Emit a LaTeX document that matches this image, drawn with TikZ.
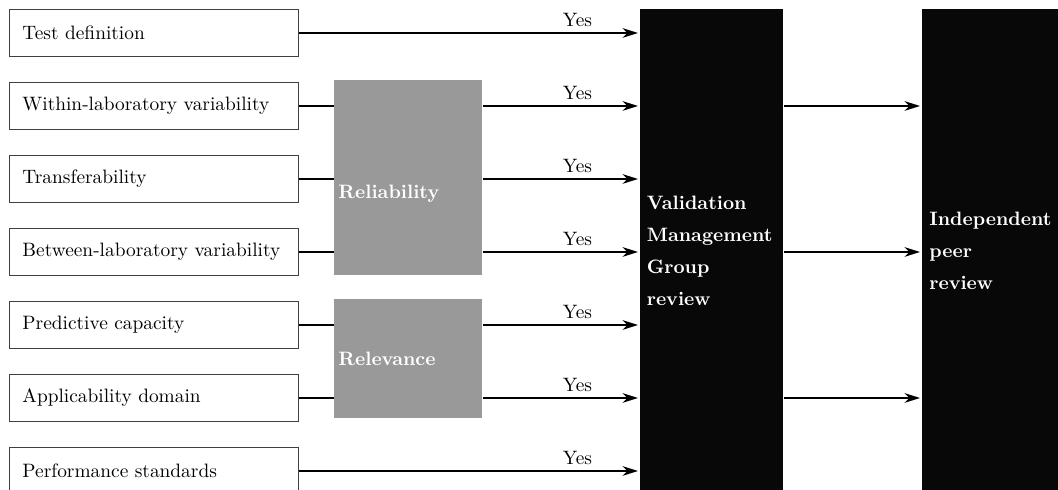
\documentclass[tikz,border=0pt]{standalone}
\usetikzlibrary{positioning, arrows.meta}

\newcommand{\px}{0.516pt}

\tikzset{
  crit/.style={draw=black!75, line width=0.5pt, anchor=north west,
    minimum width=289*\px, minimum height=47*\px,
    text width=263*\px, inner xsep=13*\px, align=flush left},
  group/.style={fill=black!40, anchor=north west, minimum width=148*\px},
  grouptext/.style={text=white, font=\bfseries, anchor=west, inner sep=0pt},
  review/.style={fill=black!97, anchor=north west, text=white,
    minimum width=140*\px, minimum height=482*\px,
    font=\fontsize{10}{16.5}\selectfont\bfseries, align=left},
  link/.style={line width=1pt},
  flow/.style={line width=1pt, -{Stealth[length=8pt, width=5pt]},
    shorten >=2*\px},
  yes/.style={anchor=south east, inner sep=0pt, xshift=-47*\px,
    yshift=5*\px}
}

\begin{document}
\begin{tikzpicture}[x=\px, y=-\px]
\useasboundingbox (0,0) rectangle (1058,490);

% criteria
\node[crit] (testdef) at (9,9) {Test definition};
\node[crit] (within) at (9,82) {Within-laboratory variability};
\node[crit] (transf) at (9,155) {Transferability};
\node[crit] (between) at (9,228) {Between-laboratory variability};
\node[crit] (predict) at (9,301) {Predictive capacity};
\node[crit] (applic) at (9,374) {Applicability domain};
\node[crit] (perform) at (9,447) {Performance standards};

% grouping boxes
\node[group, minimum height=195*\px] (reliab) at (334,80) {};
\node[grouptext] at ([xshift=4*\px, yshift=-15.5*\px]reliab.west)
    {Reliability};
\node[group, minimum height=119*\px] (relev) at (334,299) {};
\node[grouptext] at ([xshift=4*\px]relev.west) {Relevance};

% reviews
\node[review, text width=130*\px] (vmg) at (640,9)
    {Validation\\Management\\Group\\review};
\node[review, text width=126*\px] (indep) at (922,9)
    {Independent\\peer\\review};

% links into the groups
\draw[link] (within) -- (reliab.west |- within);
\draw[link] (transf) -- (reliab.west |- transf);
\draw[link] (between) -- (reliab.west |- between);
\draw[link] (predict) -- (relev.west |- predict);
\draw[link] (applic) -- (relev.west |- applic);

% arrows to the management group
\draw[flow] (testdef) -- (vmg.west |- testdef) node[yes] {Yes};
\draw[flow] (reliab.east |- within) -- (vmg.west |- within) node[yes] {Yes};
\draw[flow] (reliab.east |- transf) -- (vmg.west |- transf) node[yes] {Yes};
\draw[flow] (reliab.east |- between) -- (vmg.west |- between) node[yes] {Yes};
\draw[flow] (relev.east |- predict) -- (vmg.west |- predict) node[yes] {Yes};
\draw[flow] (relev.east |- applic) -- (vmg.west |- applic) node[yes] {Yes};
\draw[flow] (perform) -- (vmg.west |- perform) node[yes] {Yes};

% arrows to peer review
\draw[flow] (vmg.east |- within) -- (indep.west |- within);
\draw[flow] (vmg.east |- between) -- (indep.west |- between);
\draw[flow] (vmg.east |- applic) -- (indep.west |- applic);
\end{tikzpicture}
\end{document}
